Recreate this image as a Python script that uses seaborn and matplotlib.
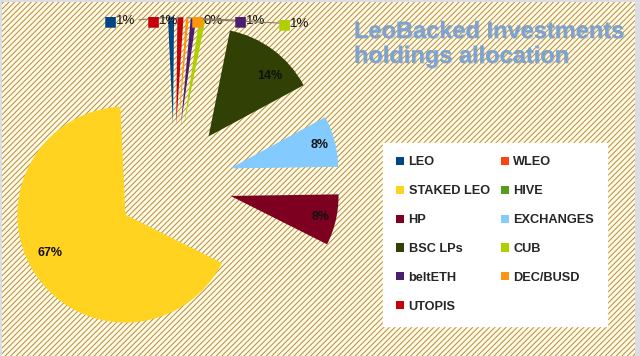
import matplotlib
matplotlib.use("Agg")
import matplotlib.pyplot as plt
import matplotlib.patheffects as pe
from matplotlib.patches import Rectangle, Patch
import numpy as np
import seaborn as sns

# holdings (percent of total)
assets = ["LEO", "WLEO", "STAKED LEO", "HIVE", "HP", "EXCHANGES",
          "BSC LPs", "CUB", "beltETH", "DEC/BUSD", "UTOPIS"]
shares = [0.9, 0.0, 66.6, 0.0, 7.6, 7.6, 13.9, 0.9, 0.8, 0.4, 0.9]
colors = ["#004586", "#ff420e", "#ffd320", "#579d1c", "#7e0021", "#83caff",
          "#314004", "#aecf00", "#4b1f6f", "#ff950e", "#c5000b"]
# small slices get a callout label at the top
callouts = ["LEO", "UTOPIS", "DEC/BUSD", "beltETH", "CUB"]

sns.set_theme(style="white")
plt.rcParams["font.family"] = ["Liberation Sans", "DejaVu Sans"]
plt.rcParams["hatch.linewidth"] = 0.7

W, H = 640, 356
fig = plt.figure(figsize=(6.4, 3.56), dpi=100, facecolor="#dcdde3")

# hatched chart area
bg = Rectangle((2 / W, 0), 633 / W, 354 / H, transform=fig.transFigure,
               facecolor="#fffbe6", edgecolor="#b88a3a", hatch="//////",
               linewidth=0, zorder=-10)
fig.patches.append(bg)

ax = fig.add_axes([0, 0, 1, 1])
ax.patch.set_alpha(0)

R = 108.0          # pie radius in px
cx, cy = 174, 183  # pie centre in px (from top)
total = sum(shares)

def pct(p):
    return f"{p:.0f}%" if p >= 5 else ""

wedges, texts, autotexts = ax.pie(
    shares, colors=colors, startangle=89.4, counterclock=True,
    explode=[0.537] * len(shares), autopct=pct, pctdistance=0.86,
    wedgeprops=dict(linewidth=0),
    textprops=dict(fontsize=9, fontweight="bold", color="#111111"))

# BSC LPs and STAKED LEO labels sit off their bisectors
i = assets.index("BSC LPs")
a = np.deg2rad(44.5)
autotexts[i].set_position((wedges[i].center[0] + 0.8 * np.cos(a),
                           wedges[i].center[1] + 0.8 * np.sin(a)))
i = assets.index("STAKED LEO")
a = np.deg2rad(207)
autotexts[i].set_position((wedges[i].center[0] + 0.78 * np.cos(a),
                           wedges[i].center[1] + 0.78 * np.sin(a)))

ax.set_xlim(-cx / R, (W - cx) / R)
ax.set_ylim(-(H - cy) / R, cy / R)
ax.set_aspect("auto")
ax.axis("off")

# callout labels for the thin slices
label_px = {"LEO": 110, "UTOPIS": 153, "DEC/BUSD": 197, "beltETH": 240, "CUB": 284}
label_py = {"LEO": 21, "UTOPIS": 21, "DEC/BUSD": 21, "beltETH": 21, "CUB": 24}
for name in callouts:
    i = assets.index(name)
    w = wedges[i]
    mid = np.deg2rad((w.theta1 + w.theta2) / 2)
    tip = (w.center[0] + w.r * np.cos(mid), w.center[1] + w.r * np.sin(mid))
    kx, ky = label_px[name] / W, 1 - label_py[name] / H
    ax.annotate(f"{shares[i] / total * 100:.0f}%", xy=tip, xycoords="data",
                xytext=(kx + 6 / W, ky), textcoords="figure fraction",
                ha="left", va="center", fontsize=9.5, color="#111111",
                arrowprops=dict(arrowstyle="-", color="#8a7a6a", lw=0.8,
                                shrinkA=0, shrinkB=0))
    fig.text(kx, ky, "\u25a0", color=colors[i], fontsize=10,
             ha="center", va="center", family="DejaVu Sans")

# title with shadow
fig.text(354 / W, 1 - 20 / H, "LeoBacked Investments\nholdings allocation",
         ha="left", va="top", fontsize=17, fontweight="bold",
         color="#7fa3cf", linespacing=1.1,
         path_effects=[pe.withSimplePatchShadow(offset=(0.8, -0.8),
                                                shadow_rgbFace="#9a9a9a",
                                                alpha=0.35),
                       pe.Normal()])

# legend laid out row-wise in two columns
order = [0, 2, 4, 6, 8, 10, 1, 3, 5, 7, 9]
handles = [Patch(facecolor=colors[i], edgecolor="none") for i in order]
leg = fig.legend(handles, [assets[i] for i in order], ncol=2,
                 loc="upper left", bbox_to_anchor=(383 / W, 1 - 143 / H),
                 bbox_transform=fig.transFigure, borderaxespad=0,
                 borderpad=1.05, labelspacing=1.32, handlelength=0.6,
                 handleheight=0.6, handletextpad=0.35, columnspacing=0.9,
                 frameon=True, fancybox=False, framealpha=1,
                 facecolor="white", edgecolor="white",
                 prop=dict(size=9.2, weight="bold"))

fig.savefig("out.png", dpi=100, facecolor=fig.get_facecolor())
